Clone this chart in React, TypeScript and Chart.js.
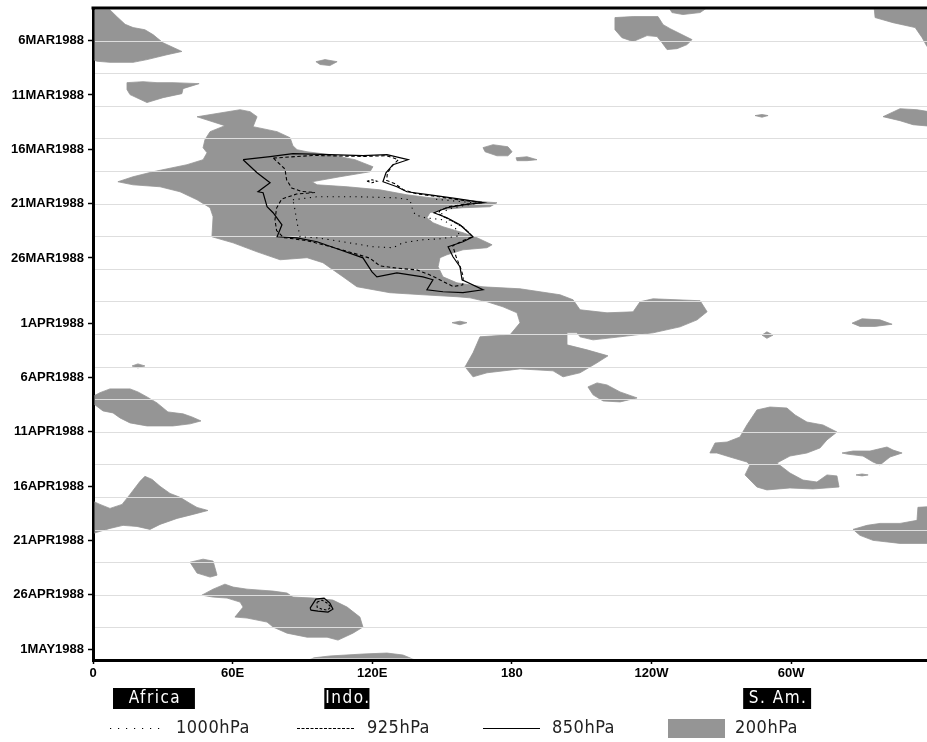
import { useEffect, useRef } from 'react';
import { Chart, registerables } from 'chart.js';

Chart.register(...registerables);

// ---- axis data (day index: 1 MAR 1988 = 0) ----
const yTickDays = [5, 10, 15, 20, 25, 31, 36, 41, 46, 51, 56, 61];
const yTickLabels = ['6MAR1988', '11MAR1988', '16MAR1988', '21MAR1988', '26MAR1988', '1APR1988', '6APR1988', '11APR1988', '16APR1988', '21APR1988', '26APR1988', '1MAY1988'];
const gridDays = [2, 5, 8, 11, 14, 17, 20, 23, 26, 29, 32, 35, 38, 41, 44, 47, 50, 53, 56, 59];
const xTickLons = [0, 60, 120, 180, 240, 300];
const xTickLabels = ['0', '60E', '120E', '180', '120W', '60W'];

// ---- 200hPa shaded regions [lon, day] ----
const shadeMar5: number[][] = [[-3, 1.8], [6, 1.9], [10.3, 2.8], [13.8, 3.5], [17.2, 3.8], [22.3, 4.0], [25.8, 4.45], [30.1, 5.2], [38.2, 6.0], [31.8, 6.3], [23.2, 6.75], [17.2, 7.0], [7.3, 7.0], [1.7, 6.9], [0, 6.75], [-3, 6.5]];
const shadeMar10: number[][] = [[14.6, 8.87], [21.5, 8.78], [27.5, 8.87], [34.4, 8.87], [45.6, 8.96], [38.7, 9.42], [38.2, 9.88], [30.1, 10.25], [23.2, 10.7], [20.2, 10.4], [15.9, 9.97], [14.6, 9.5]];
const shadeMar7: number[][] = [[95.8, 6.94], [99.7, 6.75], [104.9, 6.94], [101.8, 7.3], [97.6, 7.2]];
const shadeMain: number[][] = [
  [44.7, 12.01], [63.2, 11.36], [67.5, 11.54], [70.5, 12.0], [68.8, 12.92], [79.1, 13.38], [84.7, 13.94], [85.9, 14.67], [87.7, 15.04], [92.0, 15.23],
  [101.8, 15.5], [112.6, 15.96], [120.3, 16.61], [119.0, 17.07], [106.1, 17.53], [94.1, 17.99], [96.3, 18.27], [109.2, 18.45], [123.3, 18.73], [134.9, 19.19],
  [144.8, 19.46], [159.0, 19.65], [167.6, 19.83], [173.6, 19.92], [170.6, 20.29], [159.0, 20.38], [149.1, 20.57], [144.8, 20.84], [143.5, 21.3], [146.1, 21.76],
  [150.4, 22.13], [159.0, 22.68], [165.0, 23.14], [171.5, 23.79], [169.3, 24.06], [159.0, 24.25], [152.1, 24.71], [149.1, 24.98], [148.3, 25.81], [150.4, 26.74],
  [156.4, 27.29], [167.6, 27.66], [183.5, 27.84], [200.7, 28.39], [206.3, 28.85], [209.3, 29.77], [220.9, 30.05], [232.1, 29.96], [235.1, 29.03], [240.7, 28.76],
  [260.9, 28.94], [263.9, 29.95], [259.6, 30.7], [252.3, 31.34], [240.7, 31.89], [226.5, 32.26], [214.9, 32.54], [209.3, 32.26], [208.0, 31.89], [203.7, 31.89],
  [203.7, 33.0], [212.3, 33.46], [221.3, 34.01], [216.6, 34.65], [209.3, 35.57], [202.0, 35.94], [197.7, 35.39], [183.5, 35.21], [169.3, 35.57], [163.3, 35.94],
  [159.9, 35.02], [163.3, 33.73], [166.3, 32.26], [179.2, 32.08], [183.5, 30.97], [182.2, 30.05], [176.2, 29.5], [169.3, 29.03], [162.0, 28.67], [156.4, 28.57],
  [141.8, 28.39], [127.6, 28.2], [113.4, 27.65], [107.4, 26.73], [98.8, 25.44], [92.0, 24.98], [80.4, 25.17], [70.5, 24.44], [60.2, 23.61], [51.1, 23.05],
  [51.6, 21.21], [50.3, 20.38], [44.7, 19.65], [37.4, 18.91], [28.8, 18.45], [17.2, 18.27], [10.7, 17.99], [17.2, 17.53], [25.8, 17.07], [40.4, 16.42],
  [47.3, 15.96], [49.0, 15.32], [47.3, 14.86], [48.1, 14.12], [50.3, 13.38], [56.7, 12.83],
];
const shadeMar15a: number[][] = [[167.6, 14.85], [171.9, 14.58], [178.3, 14.77], [180.1, 15.23], [178.3, 15.6], [173.6, 15.6], [168.5, 15.23]];
const shadeMar15b: number[][] = [[181.8, 15.78], [186.5, 15.69], [190.8, 15.96], [186.5, 16.05], [182.2, 16.05]];
const shadeMar30: number[][] = [[154.3, 30.96], [157.7, 30.82], [160.7, 30.96], [157.7, 31.15]];
const shadeTopA: number[][] = [[247.1, 1.8], [265.1, 1.8], [260.9, 2.42], [253.5, 2.6], [248.8, 2.42]];
const shadeTopB: number[][] = [[224.3, 2.88], [232.1, 2.79], [242.8, 2.79], [245, 3.53], [248, 3.9], [257.4, 4.91], [255.3, 5.37], [251, 5.74], [246.7, 5.83], [244.5, 5.19], [242.4, 4.63], [238.1, 4.54], [232.1, 5.09], [227.3, 4.73], [224.3, 4.0]];
const shadeTopC: number[][] = [[335.6, 1.8], [362, 1.8], [362, 5.55], [358.4, 5.55], [356.3, 4.73], [353.3, 3.8], [343.8, 3.35], [336.1, 2.88]];
const shadeMar11: number[][] = [[284.5, 11.9], [287.5, 11.8], [290.1, 11.9], [287.5, 12.05]];
const shadeMar12: number[][] = [[339.5, 12.0], [346.8, 11.27], [354.1, 11.36], [362, 11.64], [362, 12.92], [352.4, 12.74], [346.8, 12.37]];
const shadeApr1a: number[][] = [[326.2, 31.0], [330.5, 30.6], [338.2, 30.7], [343.4, 31.1], [336.1, 31.3], [329.6, 31.3]];
const shadeApr1b: number[][] = [[287.5, 32.1], [289.6, 31.8], [292.2, 32.1], [289.6, 32.4]];
const shadeApr7: number[][] = [[212.7, 36.87], [216.6, 36.5], [220.9, 36.69], [226.5, 37.33], [233.8, 37.88], [226.5, 38.25], [219.2, 38.16], [214.9, 37.6]];
const shadeApr5: number[][] = [[16.8, 34.94], [19.3, 34.75], [22.3, 34.94], [19.3, 35.12]];
const shadeApr9: number[][] = [[-2, 37.97], [3.0, 37.4], [7.3, 37.05], [15.9, 37.05], [19.3, 37.33], [23.2, 37.79], [27.5, 38.34], [32.2, 39.17], [38.7, 39.35], [42.5, 39.63], [46.4, 40.0], [41.7, 40.27], [34.4, 40.46], [23.2, 40.46], [15.9, 40.18], [11.6, 39.72], [8.6, 39.26], [4.3, 39.08], [0.9, 38.53], [-2, 38.3]];
const shadeApr12: number[][] = [[265.1, 42.95], [267.3, 42.03], [272.5, 41.94], [278.0, 41.48], [281.0, 40.37], [285.3, 38.99], [290.9, 38.72], [298.2, 38.81], [301.7, 39.45], [306.8, 40.1], [313.7, 40.37], [319.7, 41.02], [315.4, 41.75], [312.4, 42.49], [306.8, 42.95], [299.5, 43.23], [293.9, 43.87], [299.5, 44.79], [305.1, 45.44], [311.1, 45.62], [315.4, 44.97], [319.7, 45.06], [320.6, 46.08], [309.4, 46.26], [299.5, 46.17], [289.6, 46.35], [285.3, 46.08], [280.2, 44.97], [282.3, 44.05], [281.0, 43.78], [273.7, 43.32], [268.1, 42.95]];
const shadeApr13: number[][] = [[321.9, 42.95], [326.6, 42.77], [333.9, 42.77], [341.2, 42.4], [343.8, 42.68], [347.7, 42.95], [342.5, 43.32], [338.2, 44.05], [335.2, 43.78], [330.9, 43.23], [324.0, 43.05]];
const shadeApr15: number[][] = [[327.9, 44.97], [330.5, 44.88], [333.1, 44.97], [330.5, 45.06]];
const shadeApr20r: number[][] = [[326.6, 49.98], [332.6, 49.61], [338.2, 49.43], [346.8, 49.43], [354.1, 49.15], [354.5, 47.95], [362, 47.86], [362, 51.27], [346.8, 51.27], [335.2, 50.99], [329.6, 50.53]];
const shadeApr18: number[][] = [[-2, 47.2], [3.0, 47.68], [7.3, 48.05], [12.5, 47.68], [15.9, 46.76], [20.2, 45.56], [22.3, 45.1], [25.4, 45.38], [28.8, 46.02], [33.1, 46.67], [37.4, 47.03], [41.7, 47.59], [44.7, 47.96], [49.4, 48.24], [43.0, 48.6], [36.1, 48.97], [28.8, 49.52], [24.5, 49.98], [18.9, 49.71], [12.9, 49.61], [7.3, 49.89], [3.0, 50.16], [-2, 50.5]];
const shadeApr23: number[][] = [[41.7, 53.0], [47.3, 52.72], [51.6, 52.9], [53.3, 54.19], [50.3, 54.37], [44.7, 54.0]];
const shadeApr27: number[][] = [[46.8, 56.03], [51.6, 55.48], [56.7, 55.02], [60.2, 55.29], [66.2, 55.48], [77.4, 55.66], [83.4, 55.84], [85.9, 56.21], [94.5, 56.3], [103.1, 56.49], [109.2, 57.13], [114.7, 58.05], [116.0, 58.97], [111.7, 59.53], [105.3, 60.17], [100.6, 59.9], [92.0, 59.9], [83.4, 59.53], [77.4, 58.97], [74.8, 58.51], [66.2, 58.14], [61.0, 58.05], [64.5, 57.13], [63.2, 56.67], [57.6, 56.3], [51.6, 56.21]];
const shadeMay1: number[][] = [[89, 62.3], [95, 61.8], [101.8, 61.63], [116.0, 61.45], [126.3, 61.36], [133.2, 61.54], [138.4, 62.0], [140, 62.3]];

const shadeRegions = [shadeMar5, shadeMar10, shadeMar7, shadeMain, shadeMar15a, shadeMar15b, shadeMar30, shadeTopA, shadeTopB, shadeTopC, shadeMar11, shadeMar12, shadeApr1a, shadeApr1b, shadeApr7, shadeApr5, shadeApr9, shadeApr12, shadeApr13, shadeApr15, shadeApr20r, shadeApr18, shadeApr23, shadeApr27, shadeMay1];

// ---- contours [lon, day] ----
const c850Main: number[][] = [[64.5, 15.96], [76.1, 15.68], [85.9, 15.41], [101.8, 15.5], [116.0, 15.59], [126.3, 15.5], [135.4, 15.96], [128.9, 16.42], [125.9, 17.16], [124.6, 17.99], [130.6, 18.45], [134.9, 18.91], [144.8, 19.19], [156.4, 19.55], [167.6, 19.92], [159.0, 20.11], [152.1, 20.38], [146.5, 20.84], [152.1, 21.3], [157.7, 21.95], [163.3, 23.05], [159.0, 23.51], [152.6, 23.97], [154.7, 24.89], [157.7, 25.81], [158.6, 27.01], [167.6, 27.93], [159.0, 28.2], [150.4, 28.11], [143.5, 27.93], [146.1, 27.01], [141.8, 26.74], [130.6, 26.37], [122.0, 26.74], [119.9, 26.28], [116.0, 24.99], [106.1, 24.25], [96.3, 23.51], [87.7, 23.15], [79.1, 23.05], [81.2, 21.95], [77.4, 20.84], [74.8, 20.29], [73.1, 19.0], [70.9, 18.91], [76.1, 18.08], [70.5, 17.16]];
const c925Main: number[][] = [[77.5, 15.81], [94.7, 15.57], [116.2, 15.66], [126.2, 15.59], [131.2, 15.96], [128.4, 16.58], [126.5, 17.19], [126.2, 17.87], [129.8, 18.17], [133.3, 18.73], [139.1, 19.1], [147.7, 19.34], [159.1, 19.71], [167.7, 19.9], [160.6, 20.04], [153.4, 20.26], [149.1, 20.63], [148.4, 20.94], [153.4, 21.49], [159.1, 22.16], [163.2, 23.03], [159.1, 23.4], [154.6, 23.88], [156.0, 24.87], [158.0, 25.94], [159.1, 26.71], [158.9, 27.48], [154.8, 27.63], [150.5, 27.17], [144.8, 26.56], [139.1, 26.1], [130.5, 25.94], [123.3, 25.73], [119.0, 25.02], [111.9, 24.56], [101.8, 23.95], [91.8, 23.4], [81.8, 23.12], [78.9, 22.48], [78.2, 21.49], [78.9, 20.41], [81.1, 19.58], [87.5, 19.12], [95.4, 18.98], [89.7, 18.88], [85.4, 18.57], [83.2, 17.81], [82.5, 16.82]];
const c925Small: number[][] = [[117.7, 17.94], [119.9, 17.81], [122.0, 17.94], [119.9, 18.08]];
const c1000Main: number[][] = [[85.9, 19.65], [96.3, 19.37], [113.4, 19.37], [129.8, 19.46], [136.2, 19.65], [137.1, 20.38], [138.4, 21.03], [142.7, 21.3], [150.4, 21.49], [155.6, 22.22], [157.7, 22.96], [149.1, 23.24], [141.8, 23.33], [133.2, 23.6], [128.9, 24.06], [120.3, 23.97], [107.4, 23.51], [96.3, 23.15], [89.0, 23.06], [87.7, 21.77], [86.8, 20.57]];
const c1000Edge: number[][] = [[147.4, 19.6], [159.0, 19.83], [165.4, 19.97], [159.0, 20.2], [153.0, 20.48], [150.0, 20.85], [149.6, 21.12], [154.7, 21.67], [159.9, 22.31], [162.9, 22.96]];
const c850Apr: number[][] = [[93.3, 57.23], [95.8, 56.4], [99.3, 56.3], [101.8, 56.76], [103.1, 57.32], [101.0, 57.59], [96.7, 57.5], [93.7, 57.41]];
const c925Apr: number[][] = [[96.3, 56.67], [98.4, 56.49], [100.6, 56.76], [102.3, 57.13], [100.6, 57.41], [98.4, 57.32], [96.3, 57.13]];

const regionNames = ['Africa', 'Indo.', 'S. Am.'];
const regionFrom = [8.6, 99.4, 279.4];
const regionTo = [43.8, 118.8, 308.6];

const SHADE = '#959595';

const toXY = (pts: number[][], close: boolean) => {
  const out = pts.map(([x, y]) => ({ x, y }));
  if (close) out.push({ x: pts[0][0], y: pts[0][1] });
  return out;
};

const lineDs = (pts: number[][], close: boolean, dash: number[], width = 1.1) => ({
  data: toXY(pts, close),
  showLine: true,
  borderColor: '#000',
  borderWidth: width,
  borderDash: dash,
  pointRadius: 0,
  pointHoverRadius: 0,
  fill: false,
  tension: 0,
});

const shadePlugin = {
  id: 'shadePlugin',
  beforeDatasetsDraw(chart: any) {
    const { ctx, chartArea: a } = chart;
    ctx.save();
    ctx.beginPath();
    ctx.rect(a.left + 1.5, a.top + 1.5, a.right - a.left, a.bottom - a.top - 3);
    ctx.clip();
    ctx.fillStyle = SHADE;
    ctx.strokeStyle = SHADE;
    ctx.lineWidth = 0.8;
    ctx.lineJoin = 'round';
    chart.data.datasets.forEach((ds: any, i: number) => {
      if (ds.kind !== 'shade') return;
      const pts = chart.getDatasetMeta(i).data;
      ctx.beginPath();
      pts.forEach((p: any, j: number) => (j ? ctx.lineTo(p.x, p.y) : ctx.moveTo(p.x, p.y)));
      ctx.closePath();
      ctx.fill();
      ctx.stroke();
    });
    const ys = chart.scales.y;
    ctx.strokeStyle = '#dedede';
    ctx.lineWidth = 1;
    gridDays.forEach((d) => {
      const py = Math.round(ys.getPixelForValue(d)) + 0.5;
      ctx.beginPath();
      ctx.moveTo(a.left + 2, py);
      ctx.lineTo(a.right, py);
      ctx.stroke();
    });
    ctx.restore();
  },
  afterDraw(chart: any) {
    const { ctx, chartArea: a } = chart;
    const xs = chart.scales.x;
    ctx.save();
    // top frame line
    ctx.fillStyle = '#000';
    ctx.fillRect(a.left - 1.5, a.top - 1.5, a.right - a.left + 1.5, 3);
    // region boxes
    ctx.font = '17px "DejaVu Sans Condensed"';
    ctx.textAlign = 'center';
    ctx.textBaseline = 'middle';
    (ctx as any).letterSpacing = '1.5px';
    regionNames.forEach((name, i) => {
      const x0 = xs.getPixelForValue(regionFrom[i]);
      const x1 = xs.getPixelForValue(regionTo[i]);
      ctx.fillStyle = '#000';
      ctx.fillRect(x0, 688, x1 - x0, 21);
      ctx.fillStyle = '#fff';
      ctx.fillText(name, (x0 + x1) / 2 + 1, 699);
    });
    // legend
    const ly = 728.5;
    ctx.strokeStyle = '#000';
    ctx.lineWidth = 1;
    ctx.setLineDash([1.2, 6.8]);
    ctx.beginPath(); ctx.moveTo(110, ly); ctx.lineTo(166, ly); ctx.stroke();
    ctx.setLineDash([3, 1.5]);
    ctx.beginPath(); ctx.moveTo(297, ly); ctx.lineTo(355, ly); ctx.stroke();
    ctx.setLineDash([]);
    ctx.lineWidth = 1.2;
    ctx.beginPath(); ctx.moveTo(483, ly); ctx.lineTo(540, ly); ctx.stroke();
    ctx.fillStyle = SHADE;
    ctx.fillRect(668, 719, 57, 19);
    ctx.fillStyle = '#222';
    ctx.textAlign = 'left';
    (ctx as any).letterSpacing = '0.5px';
    ctx.font = '18px "DejaVu Sans Condensed"';
    ctx.fillText('1000hPa', 176, ly);
    ctx.fillText('925hPa', 367, ly);
    ctx.fillText('850hPa', 552, ly);
    ctx.fillText('200hPa', 735, ly);
    ctx.restore();
  },
};

const tickFont = { family: '"Liberation Sans", Arial, sans-serif', size: 13, weight: 'bold' as const };

export default function App() {
  const ref = useRef<HTMLCanvasElement>(null);
  useEffect(() => {
    const datasets: any[] = [
      ...shadeRegions.map((r) => ({
        kind: 'shade',
        data: toXY(r, false),
        showLine: false,
        pointRadius: 0,
        pointHoverRadius: 0,
      })),
      lineDs(c1000Main, true, [1.2, 4.5]),
      lineDs(c1000Edge, false, [1.2, 4.5]),
      lineDs(c925Main, true, [3.5, 2.5]),
      lineDs(c925Small, true, [2.5, 2]),
      lineDs(c850Main, true, [], 1.2),
      lineDs(c925Apr, true, [2.5, 2]),
      lineDs(c850Apr, true, [], 1.2),
    ];
    const chart = new Chart(ref.current as HTMLCanvasElement, {
      type: 'scatter',
      data: { datasets },
      plugins: [shadePlugin],
      options: {
        animation: false,
        responsive: false,
        devicePixelRatio: 1,
        events: [],
        layout: { padding: { top: 8, right: 0, left: 0, bottom: 0 } },
        plugins: { legend: { display: false }, tooltip: { enabled: false } },
        scales: {
          x: {
            type: 'linear',
            min: 0,
            max: 358.4,
            afterBuildTicks: (s: any) => { s.ticks = xTickLons.map((v) => ({ value: v })); },
            afterFit: (s: any) => { s.height = 82; s.paddingLeft = 0; s.paddingRight = 0; },
            ticks: { autoSkip: false, maxRotation: 0, callback: (_v: any, i: number) => xTickLabels[i], font: tickFont, color: '#000', padding: 2 },
            grid: { drawOnChartArea: false, drawTicks: true, tickLength: 4, tickColor: '#000', tickWidth: 1.5 },
            border: { display: true, color: '#000', width: 3 },
          },
          y: {
            type: 'linear',
            reverse: true,
            min: 2,
            max: 62,
            afterBuildTicks: (s: any) => { s.ticks = yTickDays.map((v) => ({ value: v })); },
            afterFit: (s: any) => { s.width = 93; s.paddingTop = 0; s.paddingBottom = 0; },
            ticks: { autoSkip: false, callback: (_v: any, i: number) => yTickLabels[i], font: tickFont, color: '#000', padding: 4 },
            grid: { drawOnChartArea: false, drawTicks: true, tickLength: 5, tickColor: '#000', tickWidth: 1.5 },
            border: { display: true, color: '#000', width: 3 },
          },
        },
      } as any,
    });
    return () => chart.destroy();
  }, []);
  return (
    <div style={{ position: 'absolute', left: 0, top: 0, width: 927, height: 742, background: '#fff' }}>
      <canvas ref={ref} width={927} height={742} style={{ display: 'block' }} />
    </div>
  );
}
